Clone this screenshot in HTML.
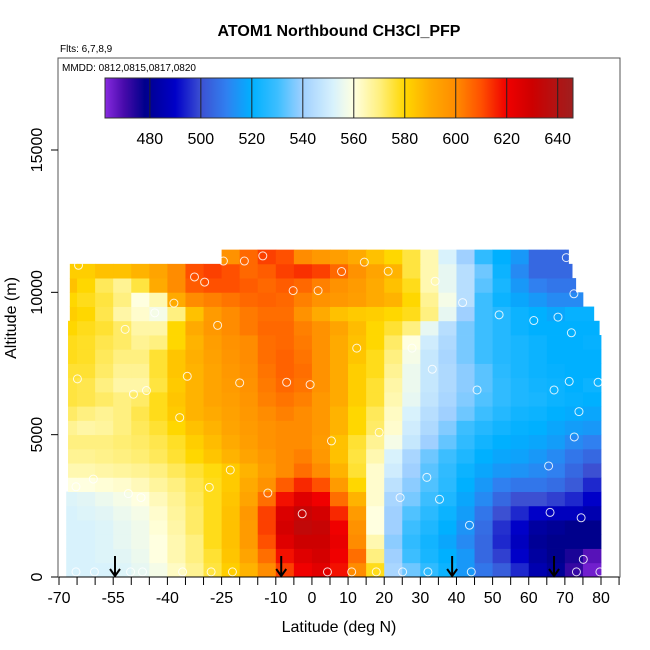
<!DOCTYPE html>
<html><head><meta charset="utf-8"><style>
body{margin:0;background:#fff}
svg{display:block;font-family:"Liberation Sans",sans-serif}
</style></head><body>
<svg id="chart" width="650" height="650" viewBox="0 0 650 650">
<text x="339" y="36" text-anchor="middle" font-size="16" font-weight="bold">ATOM1 Northbound CH3Cl_PFP</text>
<text x="60" y="52" font-size="10">Flts: 6,7,8,9</text>
<g id="heat"></g>
<g id="pts"></g>
<g id="arrows"></g>
<rect x="58" y="58" width="562" height="519" fill="none" stroke="#555" stroke-width="1"/>
<text x="62" y="71" font-size="10">MMDD: 0812,0815,0817,0820</text>
<g id="cbar"></g>
<g id="xaxis"></g>
<g id="yaxis"></g>
<text x="339" y="632" text-anchor="middle" font-size="16">Latitude (deg N)</text>
<text transform="translate(16,318) rotate(-90)" text-anchor="middle" font-size="16">Altitude (m)</text>
</svg>
<script>
const latCenters=[-67.5,-62.5,-57.5,-52.5,-47.5,-42.5,-37.5,-32.5,-27.5,-22.5,-17.5,-12.5,-7.5,-2.5,2.5,7.5,12.5,17.5,22.5,27.5,32.5,37.5,42.5,47.5,52.5,57.5,62.5,67.5,72.5,77.5];
const altBottoms=[0,500,1000,1500,2000,2500,3000,3500,4000,4500,5000,5500,6000,6500,7000,7500,8000,8500,9000,9500,10000,10500,11000];
const rowStart=[-68,-68,-68,-68,-68,-68,-67.5,-67.5,-67.5,-67.5,-67.5,-67.5,-67.5,-67.5,-67.5,-67.5,-67.5,-67.5,-67,-67,-67,-67,-25];
const rowEnd=[80,80,80,80,80,80,80,80,80,80,80,80,80,80,80,80,80,79.5,78,75,73,72,71];
const grid=[
[552,552,552,553,555,558,563,568,575,582,588,600,612,620,624,618,600,578,542,535,528,522,515,508,503,495,485,480,472,465],
[552,552,553,554,556,560,565,570,576,584,592,605,618,625,628,620,605,570,540,530,524,520,515,505,498,490,482,478,475,468],
[552,552,553,555,557,560,565,570,578,585,595,610,625,630,630,622,600,565,538,528,523,518,512,505,495,488,480,478,478,478],
[552,552,553,555,557,561,566,572,578,585,595,612,628,634,632,620,598,560,540,530,525,520,514,506,496,490,482,480,478,478],
[552,553,554,556,558,562,567,572,578,585,596,612,626,632,628,615,595,560,540,532,527,522,516,508,500,495,490,488,488,485],
[553,554,556,558,560,564,568,573,578,584,592,605,618,625,620,605,588,562,542,536,530,525,518,512,505,500,500,498,495,490],
[560,560,561,562,564,567,570,574,578,583,590,598,608,615,610,595,580,562,546,538,532,527,520,515,510,508,508,506,502,495],
[565,565,566,567,568,570,573,576,579,583,588,594,600,605,600,588,576,562,550,540,533,528,522,518,515,514,512,510,505,500],
[568,568,569,570,571,573,576,580,584,588,592,596,600,602,596,585,575,565,552,542,535,530,525,520,518,517,515,512,508,505],
[570,570,570,571,572,574,577,582,586,590,594,598,600,600,595,585,576,568,558,548,540,534,528,523,520,519,518,516,512,510],
[568,566,567,570,573,576,580,585,588,592,595,598,600,600,596,588,580,572,562,550,543,537,530,526,523,521,520,518,516,515],
[572,570,568,570,574,578,583,588,590,593,596,600,602,600,596,588,580,573,563,552,545,540,535,530,526,523,522,520,519,518],
[575,574,572,570,572,578,584,588,592,594,597,602,604,602,596,590,582,576,565,555,547,542,537,532,528,525,524,522,521,520],
[575,574,570,566,566,575,583,588,592,595,598,603,606,604,598,590,582,576,566,556,548,543,538,533,528,525,523,522,520,522],
[576,576,572,568,568,576,584,588,592,596,599,604,607,605,598,590,582,578,568,556,548,543,538,533,527,524,522,521,520,520],
[578,577,573,570,570,576,584,589,593,597,600,605,607,604,598,590,584,578,570,558,548,542,536,530,526,524,522,520,520,520],
[578,577,574,572,568,570,580,588,594,598,600,605,606,603,598,590,585,580,572,560,550,543,536,530,526,524,522,520,520,521],
[580,578,576,572,566,566,580,590,596,600,603,606,606,602,598,592,586,580,576,570,555,545,536,530,526,522,520,520,520,520],
[582,580,574,566,562,558,570,585,595,600,603,605,605,598,590,585,583,582,580,578,570,555,540,530,526,522,520,518,521,521],
[580,578,575,570,560,565,590,600,602,604,606,607,606,602,598,596,594,590,588,580,568,558,545,530,522,518,515,512,512,512],
[585,580,573,568,575,590,600,608,610,610,608,606,608,606,602,598,595,590,585,578,565,555,545,533,524,515,510,508,508,508],
[582,582,585,585,588,592,600,610,612,610,606,608,612,614,612,606,598,592,588,575,565,555,545,535,522,512,505,505,505,505],
[598,598,598,598,598,598,598,598,598,598,606,612,610,600,596,594,590,585,580,575,565,552,540,528,520,515,505,505,505,505]
];
const ptLat=[-64.6,-32.5,-29.7,-13.6,-24.5,-18.7,-38.2,-5.2,1.7,8.2,14.5,21.1,34.1,41.7,51.8,61.4,68.1,71.8,72.5,77.1,70.4,-43.5,-51.7,-26.1,12.4,27.7,33.3,-64.9,-34.5,-20,-7,-0.5,-49.4,-45.8,45.7,67,71.2,79.2,73.9,-36.6,18.6,5.4,72.6,-22.6,65.5,31.8,-60.5,-65.3,-28.4,-50.8,-47.3,-12.2,24.4,35.3,-2.7,65.9,74.5,43.6,75.1,-65.3,-60.2,-50.2,-46.9,-35.8,-27.9,-22,4.3,11,17.8,25.1,32.1,44.1,73.2,79.7];
const ptAlt=[10950,10540,10360,11280,11100,11100,9620,10060,10060,10730,11060,10740,10390,9640,9210,9010,9130,8580,9950,9860,11220,9280,8700,8840,8040,8040,7300,6960,7050,6820,6840,6760,6420,6550,6570,6570,6870,6840,5810,5600,5080,4780,4920,3760,3900,3500,3440,3170,3150,2930,2790,2950,2790,2730,2220,2270,2080,1820,620,180,180,180,180,180,180,180,180,180,180,180,180,180,180,180];
const arrowLat=[-54.5,-8.5,38.8,67];
const xTicks=[-70,-65,-60,-55,-50,-45,-40,-35,-30,-25,-20,-15,-10,-5,0,5,10,15,20,25,30,35,40,45,50,55,60,65,70,75,80,85];
const xLabels=[-70,-55,-40,-25,-10,0,10,20,30,40,50,60,70,80];
const yTicks=[0,5000,10000,15000];
const cbLabels=[480,500,520,540,560,580,600,620,640];
const cbMin=462.4, cbMax=646;

const NS='http://www.w3.org/2000/svg';
const X=lat=>59+(lat+70)*(542/150);
const Y=alt=>577-alt*(427/15000);
const CX=v=>105+(v-cbMin)*(468/(cbMax-cbMin));
const stops=[[462,[138,43,226]],[470,[70,10,170]],[478,[0,0,140]],[490,[0,0,200]],[500,[60,80,210]],[510,[48,128,240]],[520,[0,176,255]],[530,[60,190,255]],[540,[160,208,255]],[552,[216,242,252]],[560,[255,255,224]],[570,[255,240,128]],[580,[255,215,0]],[590,[255,170,0]],[600,[255,140,0]],[610,[255,80,0]],[620,[240,0,0]],[630,[205,0,0]],[640,[176,20,20]],[646,[160,30,30]]];
function col(v){
  if(v<=stops[0][0])return 'rgb('+stops[0][1]+')';
  for(let i=1;i<stops.length;i++){if(v<=stops[i][0]){const a=stops[i-1],b=stops[i],t=(v-a[0])/(b[0]-a[0]);
    return 'rgb('+a[1].map((c,k)=>Math.round(c+(b[1][k]-c)*t)).join(',')+')';}}
  return 'rgb('+stops[stops.length-1][1]+')';
}
function mk(tag,attrs,parent){const e=document.createElementNS(NS,tag);for(const k in attrs)e.setAttribute(k,attrs[k]);parent.appendChild(e);return e;}

const heat=document.getElementById('heat');
altBottoms.forEach((ab,r)=>{
  latCenters.forEach((lc,c)=>{
    const l0=Math.max(lc-2.5,rowStart[r]),l1=Math.min(lc+2.5,rowEnd[r]);
    if(l1<=l0)return;
    const e=mk('rect',{x:X(l0),y:Y(ab+500),width:X(l1)-X(l0)+0.4,height:Y(ab)-Y(ab+500)+0.4,fill:col(grid[r][c])},heat);
    
    
  });
});
const pts=document.getElementById('pts');
ptLat.forEach((la,i)=>{
  const e=mk('circle',{cx:X(la),cy:Y(ptAlt[i]),r:4,fill:'none',stroke:'#fff','stroke-width':1,opacity:0.85},pts);
  
  
});
const ar=document.getElementById('arrows');
arrowLat.forEach(la=>{
  const g=mk('g',{},ar);
  
  
  const x=X(la);
  mk('line',{x1:x,y1:556,x2:x,y2:576,stroke:'#000','stroke-width':2},g);
  mk('polyline',{points:(x-5)+',569 '+x+',576 '+(x+5)+',569',fill:'none',stroke:'#000','stroke-width':2},g);
});
// colorbar
const cb=document.getElementById('cbar');
const defs=mk('defs',{},cb);
const grad=mk('linearGradient',{id:'cbg',x1:0,x2:1,y1:0,y2:0},defs);
for(let v=462;v<=646;v+=2){mk('stop',{offset:((v-cbMin)/(cbMax-cbMin)).toFixed(4),'stop-color':col(v)},grad);}
const cbr=mk('rect',{x:105,y:78,width:468,height:40,fill:'url(#cbg)',stroke:'#333','stroke-width':1},cb);


cbLabels.forEach(v=>{
  mk('line',{x1:CX(v),y1:78,x2:CX(v),y2:118,stroke:'#222','stroke-width':1},cb);
  const t=mk('text',{x:CX(v),y:144,'text-anchor':'middle','font-size':16},cb);
  
  
  t.textContent=v;
});
// axes
const xa=document.getElementById('xaxis');
mk('line',{x1:X(-70),y1:577,x2:X(85),y2:577,stroke:'#000','stroke-width':1},xa);
xTicks.forEach(t=>{mk('line',{x1:X(t),y1:577,x2:X(t),y2:585,stroke:'#000','stroke-width':1},xa);});
xLabels.forEach(t=>{
  const e=mk('text',{x:X(t),y:603,'text-anchor':'middle','font-size':16},xa);
  
  
  e.textContent=t;
});
const ya=document.getElementById('yaxis');
yTicks.forEach(t=>{
  mk('line',{x1:51,y1:Y(t),x2:58,y2:Y(t),stroke:'#000','stroke-width':1},ya);
  const e=mk('text',{transform:'translate(42,'+Y(t)+') rotate(-90)','text-anchor':'middle','font-size':16},ya);
  
  
  e.textContent=t;
});
</script>
</body></html>
